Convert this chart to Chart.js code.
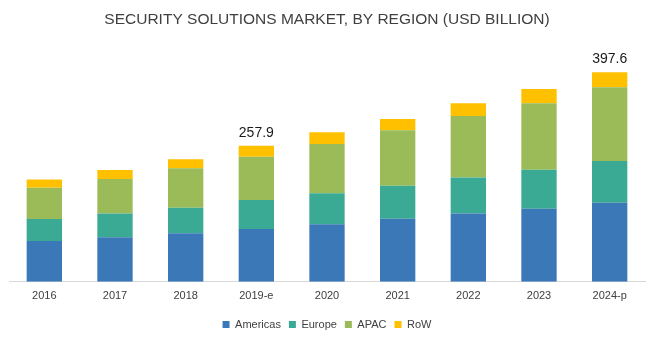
<!DOCTYPE html>
<html>
<head>
<meta charset="utf-8">
<script src="https://cdn.jsdelivr.net/npm/chart.js@4/dist/chart.umd.min.js"></script>
<style>
html,body{margin:0;padding:0;background:#fff;}
#wrap{width:650px;height:342px;position:relative;}
</style>
</head>
<body>
<div id="wrap"><canvas id="c" width="650" height="342"></canvas></div>
<script>
const categories = ["2016","2017","2018","2019-e","2020","2021","2022","2023","2024-p"];
const americas = [77.5, 84.6, 92.2, 100.3, 109.3, 119.4, 129.6, 138.4, 149.8];
const europe   = [41.8, 45.0, 48.1, 55.1, 58.9, 62.7, 68.4, 74.1, 79.2];
const apac     = [58.9, 65.2, 74.9, 81.7, 93.1, 105.3, 116.5, 126.2, 140.1];
const row      = [16.0, 17.1, 17.1, 20.8, 22.2, 21.5, 24.1, 27.2, 28.5];
const totalLabels = ["", "", "", "257.9", "", "", "", "", "397.6"];

const totalsPlugin = {
  id: 'totals',
  afterDatasetsDraw(chart) {
    const ctx = chart.ctx;
    const xs = chart.scales.x, ys = chart.scales.y;
    ctx.save();
    ctx.font = '14px "Liberation Sans", Arial, sans-serif';
    ctx.fillStyle = '#1a1a1a';
    ctx.textAlign = 'center';
    ctx.textBaseline = 'alphabetic';
    totalLabels.forEach((t, i) => {
      if (!t) return;
      const total = americas[i] + europe[i] + apac[i] + row[i];
      ctx.fillText(t, xs.getPixelForValue(i), ys.getPixelForValue(total) - 9);
    });
    ctx.restore();
  }
};

new Chart(document.getElementById('c'), {
  type: 'bar',
  data: {
    labels: categories,
    datasets: [
      {label: 'Americas', data: americas, backgroundColor: '#3B78B8'},
      {label: 'Europe', data: europe, backgroundColor: '#3BAA94'},
      {label: 'APAC', data: apac, backgroundColor: '#9BBB59'},
      {label: 'RoW', data: row, backgroundColor: '#FFC000'}
    ]
  },
  options: {
    responsive: false,
    animation: false,
    layout: {padding: {left: 9, right: 5, top: 10, bottom: 2}},
    datasets: {bar: {categoryPercentage: 1, barPercentage: 0.5}},
    plugins: {
      title: {
        display: true,
        text: 'SECURITY SOLUTIONS MARKET, BY REGION (USD BILLION)',
        color: '#404040',
        font: {family: '"Liberation Sans Narrow", "Arial Narrow", "Liberation Sans", sans-serif', size: 15.5, weight: 'normal'},
        padding: {top: 0, bottom: 16}
      },
      legend: {
        position: 'bottom',
        labels: {
          boxWidth: 7, boxHeight: 7, padding: 8,
          color: '#404040',
          font: {family: '"Liberation Sans", Arial, sans-serif', size: 11}
        }
      },
      tooltip: {enabled: false}
    },
    scales: {
      x: {
        stacked: true,
        grid: {display: false, drawTicks: false, tickLength: 0},
        border: {display: true, color: '#d9d9d9', width: 1},
        ticks: {color: '#404040', font: {family: '"Liberation Sans", Arial, sans-serif', size: 11}, padding: 8}
      },
      y: {
        stacked: true,
        display: false,
        min: 0,
        max: 450
      }
    }
  },
  plugins: [totalsPlugin]
});
</script>
</body>
</html>
